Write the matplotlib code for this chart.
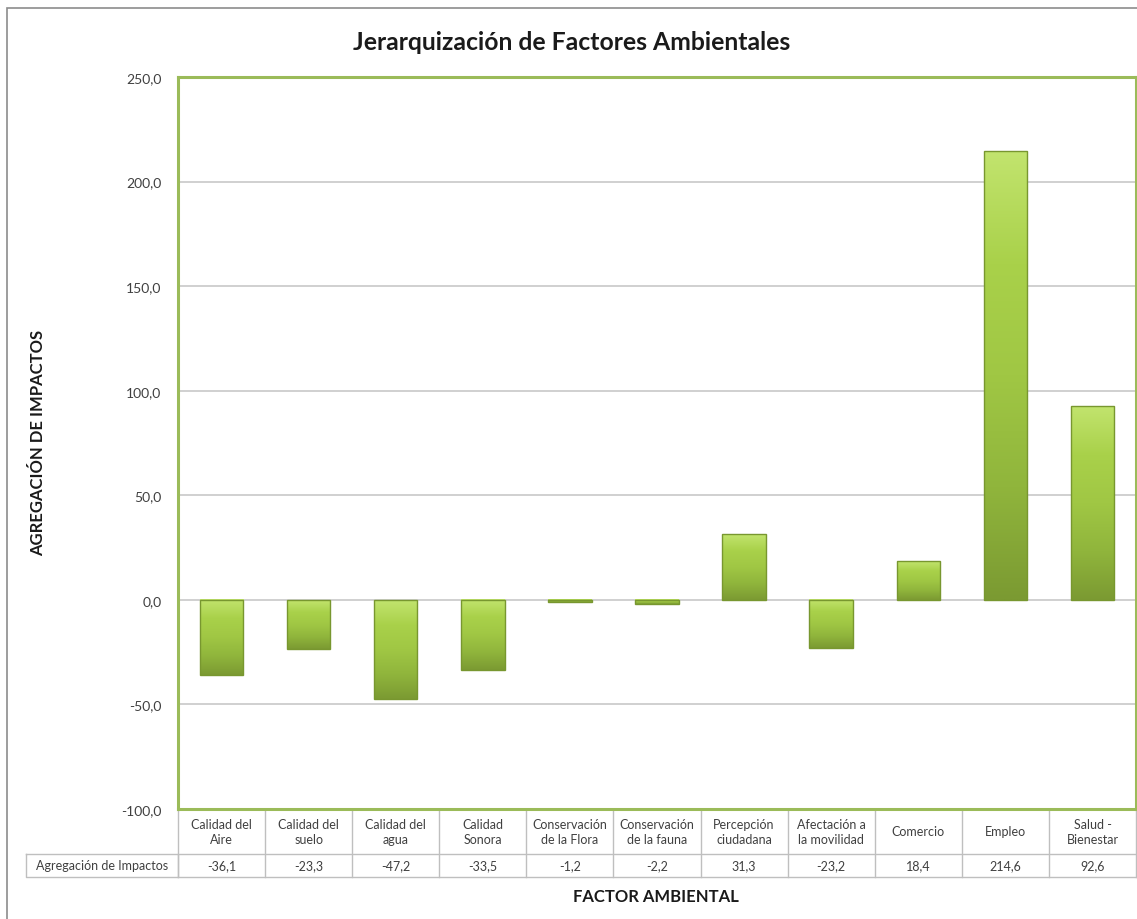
import matplotlib
matplotlib.use("Agg")
import matplotlib.pyplot as plt
import numpy as np
from matplotlib.colors import LinearSegmentedColormap
from matplotlib.patches import Rectangle
from matplotlib.transforms import blended_transform_factory

plt.rcParams['font.family'] = ['Lato', 'DejaVu Sans']

categories = ["Calidad del\nAire", "Calidad del\nsuelo", "Calidad del\nagua", "Calidad\nSonora",
              "Conservación\nde la Flora", "Conservación\nde la fauna", "Percepción\nciudadana",
              "Afectación a\nla movilidad", "Comercio", "Empleo", "Salud -\nBienestar"]
values = [-36.1, -23.3, -47.2, -33.5, -1.2, -2.2, 31.3, -23.2, 18.4, 214.6, 92.6]
series_name = "Agregación de Impactos"
yticks = [-100, -50, 0, 50, 100, 150, 200, 250]

W, H = 1137, 920
fig = plt.figure(figsize=(W / 100, H / 100), dpi=100)

# outer chart border
fig.patches.append(Rectangle((7 / W, -0.1), 1.2, 1 - 9 / H + 0.1, transform=fig.transFigure,
                             fill=False, edgecolor='#8c8c8c', linewidth=1.2))

ax_l, ax_r, ax_t, ax_b = 178, 1136, 78, 810
ax = fig.add_axes([ax_l / W, 1 - ax_b / H, (ax_r - ax_l) / W, (ax_b - ax_t) / H])

n = len(values)
x = np.arange(n)
bw = 0.5
bars = ax.bar(x, values, width=bw, color='none', edgecolor='#78972f', linewidth=1.0, zorder=3)

cmap = LinearSegmentedColormap.from_list('g', ['#c2e46e', '#a9d14a', '#a0c744', '#90b53c', '#7b9a32'])
grad = np.linspace(0, 1, 256).reshape(-1, 1)
for b in bars:
    x0, y0 = b.get_x(), b.get_y()
    w, h = b.get_width(), b.get_height()
    ylo, yhi = min(y0, y0 + h), max(y0, y0 + h)
    ax.imshow(grad, cmap=cmap, extent=[x0, x0 + w, ylo, yhi], origin='upper',
              aspect='auto', zorder=2, interpolation='bilinear')

ax.set_xlim(-0.5, n - 0.5)
ax.set_ylim(-100, 250)
ax.set_yticks(yticks)
ax.set_yticklabels([f"{v:.1f}".replace('.', ',') for v in yticks], fontsize=10, color='#404040')
ax.tick_params(axis='y', length=0, pad=12)
ax.set_xticks([])
for v in yticks[1:-1]:
    ax.axhline(v, color='#c8c8c8', linewidth=1.2, zorder=1)
for s in ax.spines.values():
    s.set_color('#9bbb59')
    s.set_linewidth(2.2)

# data table
tr = blended_transform_factory(ax.transData, fig.transFigure)
def fy(px):
    return 1 - px / H
row1_top, row1_bot, row2_bot = 810, 855, 878
lc = '#bfbfbf'
for i in range(n + 1):
    xi = i - 0.5
    ax.plot([xi, xi], [fy(row1_top), fy(row2_bot)], transform=tr, color=lc, lw=1, clip_on=False)
ax.plot([-0.5, n - 0.5], [fy(row1_bot), fy(row1_bot)], transform=tr, color=lc, lw=1, clip_on=False)
ax.plot([-0.5, n - 0.5], [fy(row2_bot), fy(row2_bot)], transform=tr, color=lc, lw=1, clip_on=False)
for i, (c, v) in enumerate(zip(categories, values)):
    ax.text(i, fy((row1_top + row1_bot) / 2), c, transform=tr, ha='center', va='center',
            fontsize=9, color='#404040', linespacing=1.35)
    ax.text(i, fy((row1_bot + row2_bot) / 2), f"{v:.1f}".replace('.', ','), transform=tr,
            ha='center', va='center', fontsize=9, color='#404040')
# row label cell
fig.lines.append(plt.Line2D([26 / W, ax_l / W, ax_l / W, 26 / W, 26 / W],
                            [fy(row1_bot), fy(row1_bot), fy(row2_bot), fy(row2_bot), fy(row1_bot)],
                            transform=fig.transFigure, color=lc, lw=1))
fig.text(102 / W, fy((row1_bot + row2_bot) / 2), series_name, ha='center', va='center',
         fontsize=9, color='#404040')

fig.text(572 / W, fy(42), "Jerarquización de Factores Ambientales", ha='center', va='center',
         fontsize=17.8, fontweight='bold', color='#1a1a1a')
fig.text(38 / W, fy(443), "AGREGACIÓN DE IMPACTOS", ha='center', va='center', rotation=90,
         fontsize=12, fontweight='bold', color='#1a1a1a')
fig.text(656 / W, fy(897), "FACTOR AMBIENTAL", ha='center', va='center',
         fontsize=12, fontweight='bold', color='#1a1a1a')

fig.savefig("out.png", dpi=100)
